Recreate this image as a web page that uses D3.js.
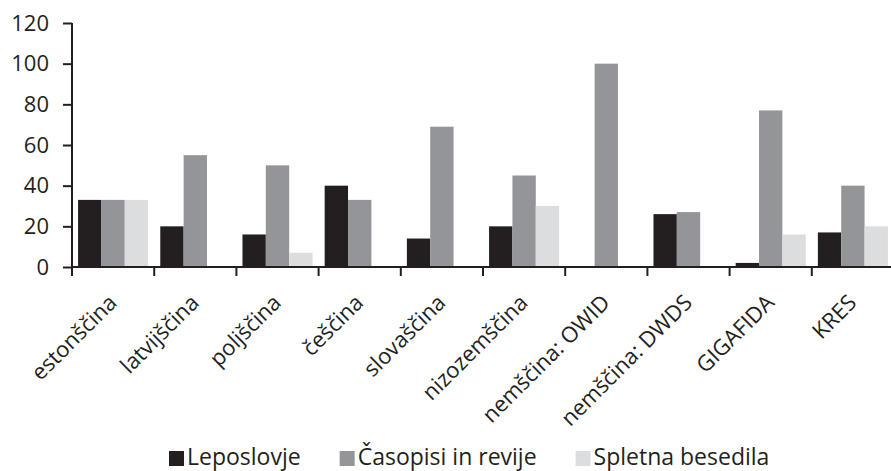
<!DOCTYPE html>
<html><head><meta charset="utf-8">
<script src="https://cdn.jsdelivr.net/npm/d3@7"></script>
<style>body{margin:0;background:#fff}svg{display:block}text{font-family:"Open Sans",sans-serif;fill:#231f20}</style>
</head><body><svg id="c" width="891" height="471"></svg>
<script>
const categories = ["estonščina","latvijščina","poljščina","češčina","slovaščina","nizozemščina","nemščina: OWID","nemščina: DWDS","GIGAFIDA","KRES"];
const seriesNames = ["Leposlovje","Časopisi in revije","Spletna besedila"];
const leposlovje = [33,20,16,40,14,20,0,26,2,17];
const casopisi = [33,55,50,33,69,45,100,27,77,40];
const spletna = [33,0,7,0,0,30,0,0,16,20];
const yTicks = [0,20,40,60,80,100,120];
const colors = ["#231f20","#939598","#dcddde"];

const svg = d3.select("#c");
const x0 = 72, x1 = 894, yTop = 23, yBot = 267;
const x = d3.scaleBand().domain(categories).range([x0,x1]).paddingInner(0).paddingOuter(0);
const xs = d3.scaleBand().domain(seriesNames).range([0,x.bandwidth()]).paddingInner(0).paddingOuter(0.26);
const y = d3.scaleLinear().domain([0,120]).range([yBot,yTop]);
const series = [leposlovje,casopisi,spletna];

const g = svg.append("g");
series.forEach((vals,si)=>{
  g.selectAll(null).data(categories).enter().append("rect")
    .attr("x",d=>x(d)+xs(seriesNames[si]))
    .attr("width",xs.bandwidth())
    .attr("y",(d,i)=>y(vals[i]))
    .attr("height",(d,i)=>yBot-y(vals[i]))
    .attr("fill",colors[si]);
});

// y axis
const ya = svg.append("g").attr("transform",`translate(${x0},0)`)
  .call(d3.axisLeft(y).tickValues(yTicks).tickSize(9).tickPadding(14));
ya.select(".domain").attr("stroke","#231f20").attr("stroke-width",2).attr("d",`M0,${yTop}V${yBot+9}`);
ya.selectAll(".tick line").attr("stroke","#231f20").attr("stroke-width",2);
ya.selectAll(".tick text").attr("font-size",22).attr("fill","#231f20").style("font-family","'Open Sans',sans-serif");

// x axis
const xa = svg.append("g").attr("transform",`translate(0,${yBot})`);
xa.append("line").attr("x1",x0).attr("x2",891).attr("y1",0).attr("y2",0).attr("stroke","#231f20").attr("stroke-width",2);
xa.selectAll(null).data(categories.slice(1)).enter().append("line")
  .attr("x1",d=>x(d)).attr("x2",d=>x(d)).attr("y1",0).attr("y2",9)
  .attr("stroke","#231f20").attr("stroke-width",2);
xa.selectAll(null).data(categories).enter().append("text")
  .attr("transform",d=>`translate(${x(d)+x.bandwidth()/2+5},${37}) rotate(-45)`)
  .attr("text-anchor","end").attr("font-size",22).text(d=>d);

// legend
const leg = svg.append("g").attr("transform","translate(169,0)");
let cx = 0;
seriesNames.forEach((n,i)=>{
  leg.append("rect").attr("x",cx).attr("y",451).attr("width",15).attr("height",15).attr("fill",colors[i]);
  const t = leg.append("text").attr("x",cx+18).attr("y",465).attr("font-size",23).text(n);
  cx += 18 + t.node().getComputedTextLength() + 39;
});
</script></body></html>
